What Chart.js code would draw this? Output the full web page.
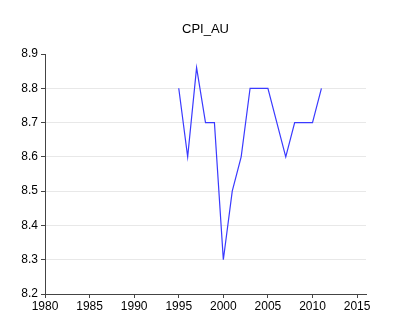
<!DOCTYPE html>
<html>
<head>
<meta charset="utf-8">
<script src="https://cdn.jsdelivr.net/npm/chart.js@4"></script>
<style>
  html, body { margin: 0; padding: 0; background: #fff; }
  #wrap { width: 400px; height: 334px; }
</style>
</head>
<body>
<div id="wrap"><canvas id="cpiChart" width="400" height="334"></canvas></div>
<script>
const years = [1995, 1996, 1997, 1998, 1999, 2000, 2001, 2002, 2003, 2004, 2005, 2006, 2007, 2008, 2009, 2010, 2011];
const cpiAu = [8.8, 8.6, 8.86, 8.7, 8.7, 8.3, 8.5, 8.6, 8.8, 8.8, 8.8, 8.7, 8.6, 8.7, 8.7, 8.7, 8.8];
const yearTicks = [1980, 1985, 1990, 1995, 2000, 2005, 2010, 2015];
const valueTicks = [8.2, 8.3, 8.4, 8.5, 8.6, 8.7, 8.8, 8.9];

const font = { family: 'Liberation Sans, Arial, sans-serif', size: 12 };

// title centred over the plot area rather than the whole canvas
const plotTitle = {
  id: 'plotTitle',
  afterDraw(chart) {
    const { ctx, chartArea } = chart;
    ctx.save();
    ctx.fillStyle = '#000';
    ctx.font = '13px ' + font.family;
    ctx.textAlign = 'center';
    ctx.textBaseline = 'middle';
    ctx.fillText('CPI_AU', (chartArea.left + chartArea.right) / 2, 29);
    ctx.restore();
  }
};

const ctx = document.getElementById('cpiChart').getContext('2d');
const chart = new Chart(ctx, {
  type: 'line',
  data: {
    datasets: [{
      label: 'CPI_AU',
      data: years.map((y, i) => ({ x: y, y: cpiAu[i] })),
      borderColor: '#3a3aff',
      borderWidth: 1.2,
      pointRadius: 0,
      fill: false,
      tension: 0
    }]
  },
  plugins: [plotTitle],
  options: {
    responsive: false,
    animation: false,
    layout: { padding: { left: 0, right: 34, top: 54, bottom: 0 } },
    plugins: {
      legend: { display: false },
      tooltip: { enabled: false },
      title: { display: false }
    },
    scales: {
      x: {
        type: 'linear',
        min: 1980,
        max: 2016,
        afterBuildTicks: s => { s.ticks = yearTicks.map(v => ({ value: v })); },
        afterFit: s => { s.height = 40; },
        border: { color: '#444', width: 1 },
        grid: { drawOnChartArea: false, drawTicks: true, tickLength: 4, tickColor: '#444' },
        ticks: { color: '#000', font, padding: 1, maxRotation: 0, callback: v => String(v) }
      },
      y: {
        min: 8.2,
        max: 8.9,
        afterBuildTicks: s => { s.ticks = valueTicks.map(v => ({ value: v })); },
        afterFit: s => { s.width = 45; },
        border: { color: '#444', width: 1 },
        grid: {
          color: c => (c.tick && c.tick.value >= 8.85) ? 'rgba(0,0,0,0)' : '#e8e8e8',
          tickLength: 4,
          tickColor: '#444'
        },
        ticks: { color: '#000', font, padding: 3, callback: v => v.toFixed(1) }
      }
    }
  }
});
</script>
</body>
</html>
